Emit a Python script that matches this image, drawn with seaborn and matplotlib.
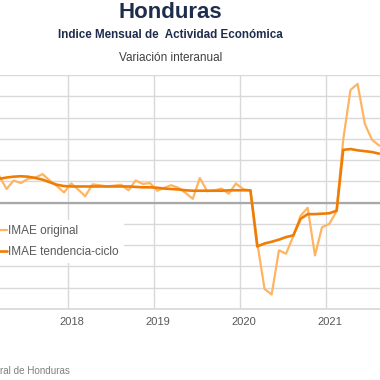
import numpy as np, pandas as pd
import matplotlib
matplotlib.use('Agg')
import matplotlib.pyplot as plt
import matplotlib.dates as mdates
from matplotlib.transforms import ScaledTranslation
import seaborn as sns

# monthly data, Mar 2017 - Aug 2021 (year-on-year %)
fechas = pd.date_range('2017-03-01', '2021-08-01', freq='MS') + pd.Timedelta(days=14)
imae_original = [6.3, 3.2, 5.2, 4.6, 5.6, 5.9, 6.7, 5.2, 3.9, 2.4,
                 4.5, 3.0, 1.5, 4.3, 4.1, 3.8, 4.0, 4.2, 2.9, 5.2, 4.4, 4.6,
                 2.8, 3.5, 4.1, 3.5, 2.3, 0.9, 5.8, 2.7, 2.9, 3.3, 2.1, 4.5,
                 3.2, 2.8, -9.5, -20.3, -21.6, -11.2, -12.0, -7.9, -3.1, -1.2, -12.4, -5.8,
                 -5.0, -2.0, 14.8, 26.5, 27.9, 18.5, 14.8, 13.4]
imae_tendencia = [5.6, 5.9, 6.1, 6.2, 6.1, 5.8, 5.4, 4.8, 4.2, 3.9,
                  3.8, 3.8, 3.8, 3.8, 3.8, 3.8, 3.8, 3.8, 3.8, 3.7, 3.6, 3.6,
                  3.5, 3.3, 3.2, 3.1, 2.9, 2.8, 2.8, 2.8, 2.8, 2.8, 2.9, 2.9,
                  2.9, 2.9, -10.3, -9.6, -9.2, -8.7, -8.1, -7.7, -3.8, -2.7, -2.7, -2.6,
                  -2.5, -1.9, 12.4, 12.6, 12.3, 12.1, 11.9, 11.5]
anios = ['2018', '2019', '2020', '2021']
series = ['IMAE original', 'IMAE tendencia-ciclo']
colores = {'IMAE original': '#FFB462', 'IMAE tendencia-ciclo': '#EE7D06'}

df = pd.DataFrame({'fecha': fechas, series[0]: imae_original, series[1]: imae_tendencia})
df = df.melt(id_vars='fecha', var_name='serie', value_name='valor')

sns.set_theme(style='white')
plt.rcParams['font.family'] = ['Liberation Sans', 'DejaVu Sans']

W = H = 380
fig = plt.figure(figsize=(3.8, 3.8), dpi=100)
# plot area is wider than the picture (cropped chart)
ax = fig.add_axes([0, 1 - 309 / H, 1, 234 / H])

for s, lw in zip(series, [1.6, 1.9]):
    sns.lineplot(data=df[df.serie == s], x='fecha', y='valor', color=colores[s],
                 lw=lw, ax=ax, label=s, solid_joinstyle='round')

# x scale: 86 px per year, Jan 2018 at px 68
dpp = 365.3 / 86
x18 = mdates.date2num(pd.Timestamp('2018-01-01'))
ax.set_xlim(x18 - 68 * dpp, x18 - 68 * dpp + W * dpp)
ax.set_ylim(-25, 30)
ax.set_yticks(np.arange(-25, 31, 5))
ax.set_xticks([pd.Timestamp(f'{a}-01-01') for a in anios])
ax.set_xticklabels(anios)
ax.grid(True, color='#d9d9d9', lw=1)
ax.axhline(0, color='#a8a8a8', lw=1.6, zorder=1.5)
ax.set_axisbelow(True)
for sp in ['top', 'right', 'left']:
    ax.spines[sp].set_visible(False)
ax.spines['bottom'].set_color('#d9d9d9')
ax.tick_params(axis='both', length=0, labelleft=False, labelsize=8, colors='#595959', pad=6)
ax.set_xlabel(''); ax.set_ylabel('')
for lab in ax.get_xticklabels():
    lab.set_transform(lab.get_transform() + ScaledTranslation(4 / 100, 0, fig.dpi_scale_trans))

ax.legend(loc='upper left', bbox_to_anchor=(-18.5 / W, 1 - 220 / H), bbox_transform=fig.transFigure,
          frameon=True, fancybox=False, edgecolor='none', facecolor='white', framealpha=1,
          fontsize=8.5, handlelength=1.7, handletextpad=0.15, borderpad=0.42, labelspacing=0.78,
          borderaxespad=0, labelcolor='#595959')

fig.text(170.5 / W, 1 - 18.3 / H, 'Honduras', ha='center', va='baseline',
         fontsize=16, weight='bold', color='#1f2d4d')
fig.text(170.5 / W, 1 - 38.3 / H, 'Indice Mensual de  Actividad Económica', ha='center',
         va='baseline', fontsize=8.4, weight='bold', color='#1f2d4d')
fig.text(170.5 / W, 1 - 60.7 / H, 'Variación interanual', ha='center', va='baseline',
         fontsize=8.5, color='#404040')
# source line, only its visible part
fig.text(0.5 / W, 1 - 374 / H, 'ral de Honduras', ha='left', va='baseline',
         fontsize=7.1, color='#7f7f7f')

fig.savefig('out.png', dpi=100)
